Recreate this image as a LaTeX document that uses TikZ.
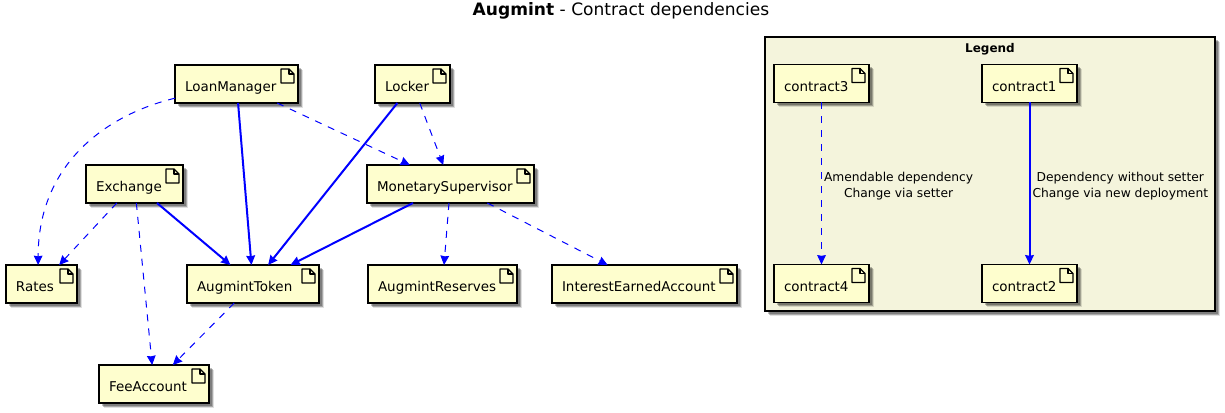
\documentclass[tikz,border=0pt]{standalone}
\usepackage{fontspec}
\setmainfont{DejaVu Sans}
\usetikzlibrary{positioning,arrows.meta,shadows}
\definecolor{notefill}{HTML}{FEFECE}
\definecolor{legendfill}{HTML}{F4F4DC}
\begin{document}
\begin{tikzpicture}[
  x=0.75pt, y=-0.75pt,
  softshadow/.style={
    drop shadow={shadow xshift=3.6pt, shadow yshift=-3.6pt, fill=black, opacity=0.12},
    drop shadow={shadow xshift=3pt, shadow yshift=-3pt, fill=black, opacity=0.25},
    drop shadow={shadow xshift=2.2pt, shadow yshift=-2.2pt, fill=black, opacity=0.25}},
  contract/.style={rectangle, draw, line width=1.1pt, fill=notefill, softshadow,
              anchor=north west, outer sep=0pt, inner xsep=7.5pt, inner ysep=0pt,
              text width=(#1-20)*0.75pt, align=left, text height=20.25pt, text depth=8.25pt,
              font=\fontsize{10.1}{12}\selectfont,
              path picture={
                \draw[line width=0.95pt, line join=round]
                  (path picture bounding box.north east) ++(-17,4) -- ++(8,0) -- ++(5,5)
                  -- ++(0,9) -- ++(-13,0) -- cycle;
                \draw[line width=0.95pt, line join=round]
                  (path picture bounding box.north east) ++(-9,4) -- ++(0,5) -- ++(5,0);
              }},
  amend/.style={draw=blue, line width=0.75pt, dash pattern=on 5.25pt off 5.25pt,
              -{Stealth[length=7pt, width=6.5pt, inset=0.5pt, fill=blue]}},
  fixed/.style={draw=blue, line width=1.5pt,
              -{Stealth[length=7pt, width=6.5pt, inset=0.5pt, fill=blue]}},
  legendbox/.style={rectangle, draw, line width=1.1pt, fill=legendfill, softshadow,
              anchor=north west, outer sep=0pt, minimum width=337.5pt, minimum height=205.5pt},
  legendlabel/.style={align=center, inner xsep=1.5pt, inner ysep=0pt, yshift=-2.25pt,
              font=\fontsize{9.2}{12}\selectfont}
]
\useasboundingbox (0,0) rectangle (1225,413);
\node[font=\fontsize{12.8}{15}\selectfont] (title) at (621,11) {\textbf{Augmint} - Contract dependencies};

\node[contract=123] (loan) at (175,65) {LoanManager};
\node[contract=75, right=57.75pt of loan, anchor=west] (locker) {Locker};
\node[contract=97, below right=46.5pt and -66.75pt of loan.south west, anchor=north west] (exchange) {Exchange};
\node[contract=167, below right=46.5pt and -6pt of locker.south west, anchor=north west] (monetary) {MonetarySupervisor};
\node[contract=71, below right=46.5pt and -60pt of exchange.south west, anchor=north west] (rates) {Rates};
\node[contract=132, right=82.5pt of rates, anchor=west] (token) {AugmintToken};
\node[contract=149, right=36.75pt of token, anchor=west] (reserves) {AugmintReserves};
\node[contract=185, right=26.25pt of reserves, anchor=west] (interest) {InterestEarnedAccount};
\node[contract=110, below right=46.5pt and 69.75pt of rates.south west, anchor=north west] (fee) {FeeAccount};

\draw[amend] (loan.193) .. controls (105,115) and (38,165) .. (rates.100);
\draw[fixed] (loan) -- (token);
\draw[amend] (loan) -- (monetary);
\draw[fixed] (locker) -- (token);
\draw[amend] (locker) -- (monetary);
\draw[amend] (exchange) -- (rates);
\draw[amend] (exchange) -- (fee);
\draw[fixed] (exchange) -- (token);
\draw[fixed] (monetary) -- (token);
\draw[amend] (monetary) -- (reserves);
\draw[amend] (monetary) -- (interest);
\draw[amend] (token) -- (fee);

\node[legendbox] (legend) at (765,37) {};
\node[below=4.75pt of legend.north, font=\bfseries\fontsize{9}{11}\selectfont, inner sep=0pt] (legendtitle) {Legend};
\node[contract=95, below right=20.6pt and 6.75pt of legend.north west, anchor=north west] (c3) {contract3};
\node[contract=95, right=84.75pt of c3, anchor=west] (c1) {contract1};
\node[contract=95, below=121.5pt of c3.south west, anchor=north west] (c4) {contract4};
\node[contract=95, below=121.5pt of c1.south west, anchor=north west] (c2) {contract2};
\draw[amend] (c3) -- node[right, legendlabel] (amendnote) {Amendable dependency\\Change via setter} (c4);
\draw[fixed] (c1) -- node[right, legendlabel] (fixednote) {Dependency without setter\\Change via new deployment} (c2);
\end{tikzpicture}
\end{document}
